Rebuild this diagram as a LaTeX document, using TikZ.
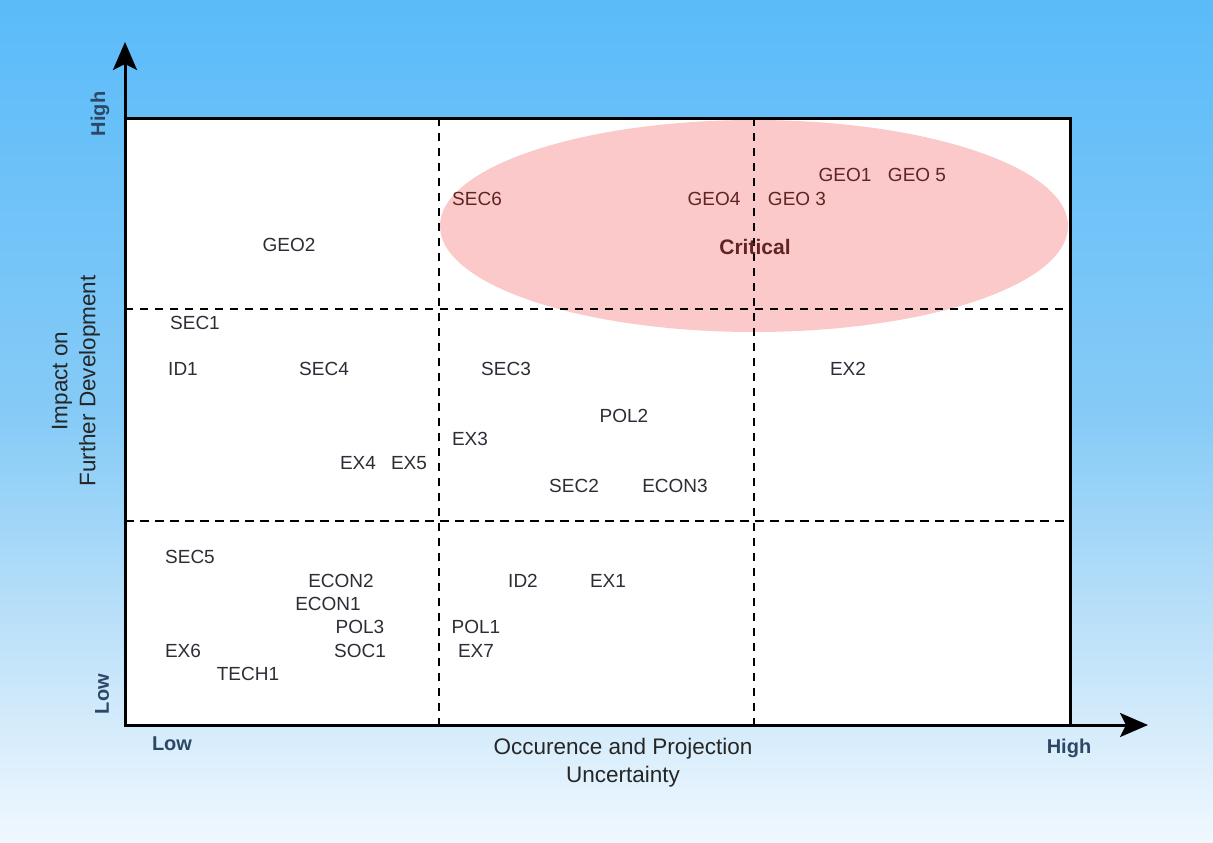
\documentclass[tikz,border=0pt]{standalone}
\usepackage{fontspec}
\setmainfont{Liberation Sans}
\usepackage{tikz}
\usetikzlibrary{arrows.meta}

\definecolor{bgtop}{RGB}{90,187,249}
\definecolor{bgmid}{RGB}{135,203,247}
\definecolor{bglow}{RGB}{200,230,250}
\definecolor{bgbot}{RGB}{240,248,254}
\definecolor{critfill}{RGB}{251,201,201}
\definecolor{critink}{RGB}{96,36,36}
\definecolor{itemink}{RGB}{45,45,55}
\definecolor{levelink}{RGB}{44,72,102}
\pgfdeclareverticalshading{skyshade}{100bp}{color(0bp)=(bgbot); color(25bp)=(bgbot); color(35bp)=(bglow); color(50bp)=(bgmid); color(75bp)=(bgtop); color(100bp)=(bgtop)}

\begin{document}
\begin{tikzpicture}[x=1pt,y=-1pt,
    item/.style={text=itemink,font=\fontsize{19}{22}\selectfont,inner sep=0pt},
    critem/.style={item,text=critink},
    level/.style={text=levelink,font=\fontsize{20}{24}\selectfont\bfseries,inner sep=0pt},
    axtitle/.style={text=black!85,font=\fontsize{22.5}{28}\selectfont,align=center,inner sep=0pt},
    thindash/.style={line width=1.5pt,dash pattern=on 8pt off 7pt},
    thickdash/.style={line width=2.6pt,dash pattern=on 9pt off 6pt},
    axis/.style={line width=3pt,-{Stealth[length=28pt,width=24pt,inset=6pt]}}]
    % background
    \shade[shading=skyshade] (0,0) rectangle (1213,843);
    \useasboundingbox (0,0) rectangle (1213,843);
    % plot area
    \coordinate (origin) at (125,725);
    \coordinate (topright) at (1070,118);
    \coordinate (ytip) at (125,42);
    \coordinate (xtip) at (1148,725);
    \fill[white] (origin) rectangle (topright);
    \fill[critfill] (754,226) ellipse [x radius=314pt,y radius=106pt];
    \draw[thindash] (439,118) -- (439,725);
    \draw[thindash] (754,118) -- (754,725);
    \draw[thindash] (125,309) -- (1070,309);
    \draw[thickdash] (125,521) -- (1070,521);
    \draw[line width=3pt] (origin) rectangle (topright);
    \draw[axis] (origin) -- (ytip);
    \draw[axis] (origin) -- (xtip);
    % axis labels
    \node[level,rotate=90] (yhigh) at (100,114) {High};
    \node[level,rotate=90] (ylow) at (102,694) {Low};
    \node[level] (xlow) at (172,744) {Low};
    \node[level] (xhigh) at (1069,748) {High};
    \node[axtitle,rotate=90] (ytitle) at (76,381) {Impact on\\Further Development};
    \node[axtitle] (xtitle) at (623,763) {Occurence and Projection\\Uncertainty};
    % critical zone
    \node[critem,font=\fontsize{21}{24}\selectfont\bfseries] (critical) at (755,247) {Critical};
    \node[critem] (sec6) at (477,199) {SEC6};
    \node[critem] (geo4) at (714,199) {GEO4};
    \node[critem] (geo3) at (797,199) {GEO 3};
    \node[critem] (geo1) at (845,175) {GEO1};
    \node[critem] (geo5) at (917,175) {GEO 5};
    % upper row
    \node[item] (geo2) at (289,245) {GEO2};
    % middle row
    \node[item] (sec1) at (195,323) {SEC1};
    \node[item] (id1) at (183,369) {ID1};
    \node[item] (sec4) at (324,369) {SEC4};
    \node[item] (sec3) at (506,369) {SEC3};
    \node[item] (ex2) at (848,369) {EX2};
    \node[item] (pol2) at (624,416) {POL2};
    \node[item] (ex3) at (470,439) {EX3};
    \node[item] (ex4) at (358,463) {EX4};
    \node[item] (ex5) at (409,463) {EX5};
    \node[item] (sec2) at (574,486) {SEC2};
    \node[item] (econ3) at (675,486) {ECON3};
    % lower row
    \node[item] (sec5) at (190,557) {SEC5};
    \node[item] (econ2) at (341,581) {ECON2};
    \node[item] (econ1) at (328,604) {ECON1};
    \node[item] (pol3) at (360,627) {POL3};
    \node[item] (soc1) at (360,651) {SOC1};
    \node[item] (ex6) at (183,651) {EX6};
    \node[item] (tech1) at (248,674) {TECH1};
    \node[item] (id2) at (523,581) {ID2};
    \node[item] (ex1) at (608,581) {EX1};
    \node[item] (pol1) at (476,627) {POL1};
    \node[item] (ex7) at (476,651) {EX7};
\end{tikzpicture}
\end{document}
